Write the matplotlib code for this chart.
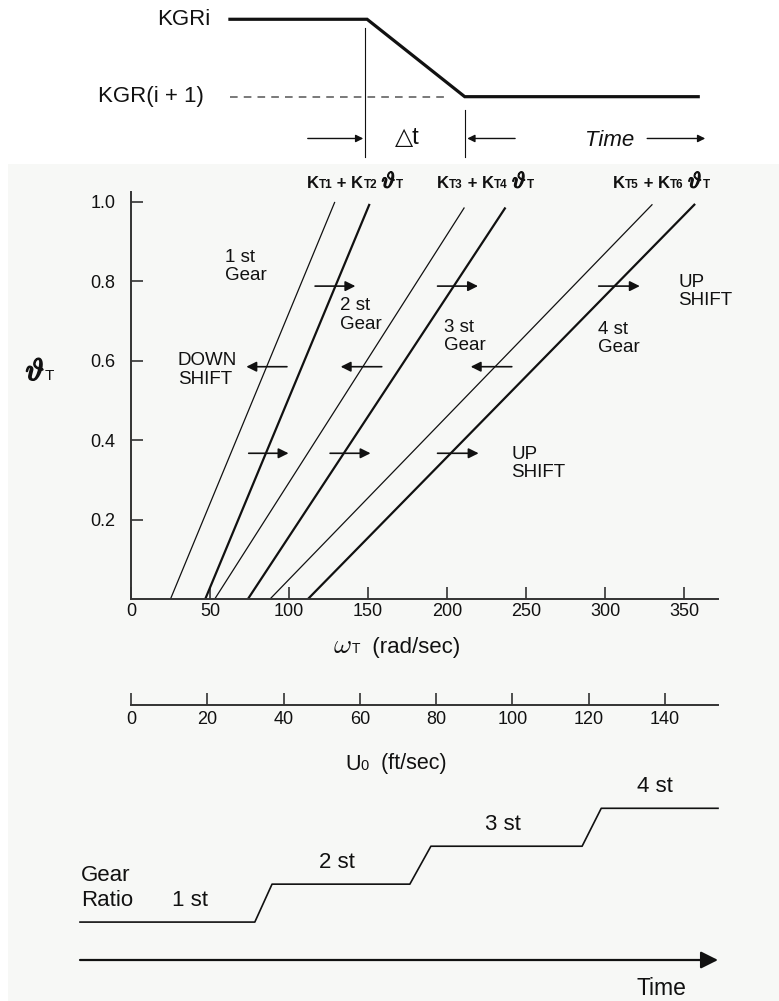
import numpy as np
import matplotlib
matplotlib.use("Agg")
import matplotlib.pyplot as plt
import matplotlib.patheffects as pe
from matplotlib.patches import Rectangle
from matplotlib.offsetbox import TextArea, HPacker, AnnotationBbox

plt.rcParams['font.family'] = ['Liberation Sans', 'DejaVu Sans']

# shift lines: omega at theta=0 and at the top end
shift_w0 = [25, 47, 53, 74, 88, 112]
shift_w1 = [129, 151, 211, 237, 330, 357]
shift_th1 = [1.0, 0.995, 0.986, 0.986, 0.994, 0.995]
shift_thick = [False, True, False, True, False, True]

# shift arrows (omega start -> end) at fixed throttle
up_hi_start = [116.5, 194, 296]
up_hi_end = [142, 219.6, 322]
up_hi_theta = 0.788
down_start = [98.7, 158.7, 241]
down_end = [73, 132.7, 215]
down_theta = 0.585
up_lo_start = [74.5, 126, 194]
up_lo_end = [99.7, 151.6, 220]
up_lo_theta = 0.367

omega_ticks = [0, 50, 100, 150, 200, 250, 300, 350]
theta_ticks = [0.2, 0.4, 0.6, 0.8, 1.0]
u0_ticks = [0, 20, 40, 60, 80, 100, 120, 140]

# gear ratio vs time
gear_t = [0, 27.4, 30.1, 51.7, 55, 78.7, 81.7, 100]
gear_level = [1, 1, 2, 2, 3, 3, 4, 4]
gear_names = ['1 st', '2 st', '3 st', '4 st']

# KGR transition vs time
kgr_t = [23.5, 45, 60.3, 96.9]
kgr_level = [1, 1, 0, 0]
window_t = [44.6, 60.3]

W, H = 779, 1001
fig = plt.figure(figsize=(W / 100, H / 100), dpi=100)
fig.patches.append(Rectangle((8 / W, 0), 1, 1 - 164 / H, transform=fig.transFigure,
                             facecolor='#f7f8f6', edgecolor='none', zorder=-10))
ink = '#111111'


def theta_font(size, stroke):
    return dict(size=size, math_fontfamily='cm',
                path_effects=[pe.withStroke(linewidth=stroke, foreground=ink)])


def rich(ax, xy, parts, coords='data', align=(0.5, 0.5)):
    boxes = [TextArea(s, textprops=dict(color=ink, **p)) for s, p in parts]
    pack = HPacker(children=boxes, align='baseline', pad=0, sep=0)
    ab = AnnotationBbox(pack, xy, xycoords=coords, frameon=False, box_alignment=align,
                        pad=0, annotation_clip=False)
    ax.add_artist(ab)


def px(x0, y0, x1, y1):
    return [x0 / W, 1 - y1 / H, (x1 - x0) / W, (y1 - y0) / H]


# ---- main shift map
ax = fig.add_axes(px(131, 192, 718, 599))
ax.patch.set_visible(False)
for w0, w1, th1, thick in zip(shift_w0, shift_w1, shift_th1, shift_thick):
    ax.plot([w0, w1], [0, th1], color=ink, lw=1.6 if thick else 0.9, solid_capstyle='butt')

arrow = dict(arrowstyle='-|>', color=ink, lw=1.2, mutation_scale=15, shrinkA=0, shrinkB=0)
for starts, ends, th in [(up_hi_start, up_hi_end, up_hi_theta),
                         (down_start, down_end, down_theta),
                         (up_lo_start, up_lo_end, up_lo_theta)]:
    for s, e in zip(starts, ends):
        ax.annotate('', xy=(e, th), xytext=(s, th), arrowprops=arrow)

ax.set_xlim(0, 371.5)
ax.set_ylim(0, 1.025)
ax.set_xticks(omega_ticks)
ax.set_yticks(theta_ticks)
ax.set_yticklabels([f'{t:.1f}' for t in theta_ticks])
for s in ['top', 'right']:
    ax.spines[s].set_visible(False)
for s in ['left', 'bottom']:
    ax.spines[s].set_linewidth(1.4)
    ax.spines[s].set_color('#333333')
ax.tick_params(axis='both', direction='in', length=8.5, width=1.2, color='#333333',
               labelsize=13, labelcolor=ink)
ax.tick_params(axis='x', pad=3)
ax.tick_params(axis='y', pad=11)

lab = dict(fontsize=13.5, color=ink, va='center', ha='left', linespacing=1.1)
ax.text(59.5, 0.838, '1 st\nGear', **lab)
ax.text(132.3, 0.715, '2 st\nGear', **lab)
ax.text(198, 0.661, '3 st\nGear', **lab)
ax.text(295.6, 0.656, '4 st\nGear', **lab)
ax.text(29.6, 0.577, 'DOWN\nSHIFT', **lab)
ax.text(346.2, 0.775, 'UP\nSHIFT', **lab)
ax.text(240.5, 0.342, 'UP\nSHIFT', **lab)

big = dict(size=12, weight='bold')
small = dict(size=8.5, weight='bold')
for (a, b), wc in zip([('1', '2'), ('3', '4'), ('5', '6')], [141.8, 224.4, 335.8]):
    rich(ax, (wc, 1.05), [('K', big), ('T' + a, small), (' + K', big), ('T' + b, small),
                          (' ', big), (r'$\vartheta$', theta_font(16, 1.0)), ('T', small)])

rich(ax, (40 / W, 1 - 372 / H), [(r'$\vartheta$', theta_font(22, 1.2)),
                                  ('T', dict(size=11))], coords='figure fraction')
rich(ax, (397 / W, 1 - 646 / H), [(r'$\omega$', dict(size=20, math_fontfamily='cm')),
                                   ('T', dict(size=10)), ('  (rad/sec)', dict(size=16))],
     coords='figure fraction')

# ---- U0 scale
au = fig.add_axes(px(131, 685, 718, 705))
au.patch.set_visible(False)
au.set_xlim(0, 153.9)
au.set_ylim(0, 1)
au.set_xticks(u0_ticks)
au.set_yticks([])
for s in ['top', 'right', 'left']:
    au.spines[s].set_visible(False)
au.spines['bottom'].set_linewidth(1.4)
au.spines['bottom'].set_color('#333333')
au.tick_params(axis='x', direction='in', length=8.5, width=1.2, color='#333333',
               labelsize=13, labelcolor=ink, pad=4.5)
rich(au, (396 / W, 1 - 764 / H), [('U', dict(size=15.5)), ('0', dict(size=10.5)),
                                   ('  (ft/sec)', dict(size=15.5))], coords='figure fraction')

# ---- gear ratio vs time
ag = fig.add_axes(px(80, 808.3, 718, 960))
ag.axis('off')
ag.set_xlim(0, 100)
ag.set_ylim(0, 4)
ag.plot(gear_t, gear_level, color=ink, lw=1.2, clip_on=False)
ag.annotate('', xy=(100, 0), xytext=(0, 0), annotation_clip=False,
            arrowprops=dict(arrowstyle='-|>', color=ink, lw=1.6, mutation_scale=26,
                            shrinkA=0, shrinkB=0))
for name, tx, lv in zip(gear_names, [17.3, 40.3, 66.3, 90.1], gear_level[::2]):
    ag.text(tx, lv + 0.57, name, fontsize=16, color=ink, ha='center', va='center')
ag.text(0.15, 1.9, 'Gear\nRatio', fontsize=16, color=ink, ha='left', va='center',
        linespacing=1.25)
ag.text(91.2, -0.74, 'Time', fontsize=16.5, color=ink, ha='center', va='center')

# ---- KGR transition
at = fig.add_axes(px(80, 0, 718, 160))
at.axis('off')
at.set_xlim(0, 100)
at.set_ylim(-0.818, 1.249)
at.plot(kgr_t, kgr_level, color=ink, lw=2.3, solid_joinstyle='miter')
at.plot([kgr_t[0], 57.7], [0, 0], color='#555555', lw=1.1, ls=(0, (5, 4)))
at.plot([window_t[0]] * 2, [0.886, -0.78], color=ink, lw=0.8)
at.plot([window_t[1]] * 2, [-0.17, -0.78], color=ink, lw=0.8)
small_arrow = dict(arrowstyle='-|>', color=ink, lw=1.0, mutation_scale=11, shrinkA=0, shrinkB=0)
at.annotate('', xy=(44.4, -0.54), xytext=(35.7, -0.54), arrowprops=small_arrow)
at.annotate('', xy=(60.7, -0.54), xytext=(68.2, -0.54), arrowprops=small_arrow)
at.annotate('', xy=(98, -0.54), xytext=(88.9, -0.54), arrowprops=small_arrow)
at.text(20.5, 1, 'KGRi', fontsize=16, color=ink, ha='right', va='center')
at.text(19.4, 0, 'KGR(i + 1)', fontsize=16, color=ink, ha='right', va='center')
at.text(51.3, -0.54, '\u25b3t', fontsize=17, color=ink, ha='center', va='center')
at.text(86.8, -0.56, 'Time', fontsize=16, color=ink, ha='right', va='center',
        style='italic')

fig.savefig('out.png', dpi=100)
